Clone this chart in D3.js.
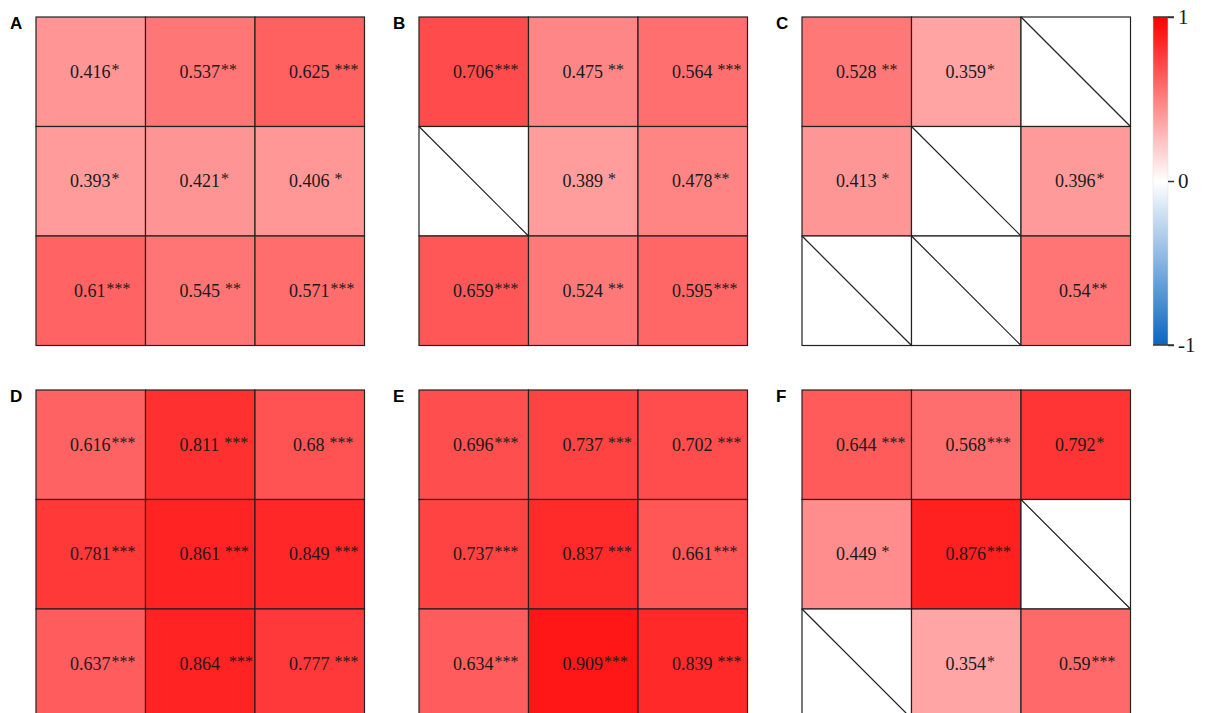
<!DOCTYPE html>
<html>
<head>
<meta charset="utf-8">
<script src="https://cdn.jsdelivr.net/npm/d3@7"></script>
<style>
  html, body { margin: 0; padding: 0; background: #fff; }
  svg { display: block; }
  .cellText { font-family: "Liberation Serif", "Times New Roman", serif; fill: #1a1a1a; white-space: pre; }
  .panelLabel { font-family: "Liberation Sans", Arial, sans-serif; font-weight: bold; font-size: 17px; fill: #000; }
  .cbar text { font-family: "Liberation Serif", "Times New Roman", serif; font-size: 21px; fill: #1a1a1a; }
</style>
</head>
<body>
<svg id="chart" width="1205" height="713"></svg>
<script>
// ---- data (null = no correlation shown, drawn as a diagonal) ----
const panelNames = ["A", "B", "C", "D", "E", "F"];
const rowIds = [0, 1, 2];
const colIds = [0, 1, 2];

const valuesA = [[0.416, 0.537, 0.625], [0.393, 0.421, 0.406], [0.61, 0.545, 0.571]];
const starsA  = [["*", "**", " ***"], ["*", "*", " *"], ["***", " **", "***"]];
const valuesB = [[0.706, 0.475, 0.564], [null, 0.389, 0.478], [0.659, 0.524, 0.595]];
const starsB  = [["***", " **", " ***"], [null, " *", "**"], ["***", " **", "***"]];
const valuesC = [[0.528, 0.359, null], [0.413, null, 0.396], [null, null, 0.54]];
const starsC  = [[" **", "*", null], [" *", null, "*"], [null, null, "**"]];
const valuesD = [[0.616, 0.811, 0.68], [0.781, 0.861, 0.849], [0.637, 0.864, 0.777]];
const starsD  = [["***", " ***", " ***"], ["***", " ***", " ***"], ["***", "  ***", " ***"]];
const valuesE = [[0.696, 0.737, 0.702], [0.737, 0.837, 0.661], [0.634, 0.909, 0.839]];
const starsE  = [["***", " ***", " ***"], ["***", " ***", "***"], ["***", "***", " ***"]];
const valuesF = [[0.644, 0.568, 0.792], [0.449, 0.876, null], [null, 0.354, 0.59]];
const starsF  = [[" ***", "***", "*"], [" *", "***", null], [null, "*", "***"]];

const colorbarTicks = [-1, 0, 1];

const panelValues = [valuesA, valuesB, valuesC, valuesD, valuesE, valuesF];
const panelStars  = [starsA, starsB, starsC, starsD, starsE, starsF];

// ---- layout ----
const svg = d3.select("#chart");
const panelSize = 328.5;
const panelX = d3.scaleOrdinal().domain([0, 1, 2]).range([36, 419, 802]);
const panelY = d3.scaleOrdinal().domain([0, 1]).range([17, 390]);

const color = d3.scaleLinear()
  .domain([-1, 0, 1])
  .range(["#0a66c2", "#ffffff", "#ff0000"])
  .interpolate(d3.interpolateRgb);

const xBand = d3.scaleBand().domain(colIds).range([0, panelSize]);
const yBand = d3.scaleBand().domain(rowIds).range([0, panelSize]);

panelNames.forEach((name, pi) => {
  const px = panelX(pi % 3), py = panelY(Math.floor(pi / 3));
  const g = svg.append("g").attr("transform", `translate(${px},${py})`);
  const vals = panelValues[pi], stars = panelStars[pi];

  const cells = [];
  rowIds.forEach(r => colIds.forEach(c => cells.push({ r, c, v: vals[r][c], s: stars[r][c] })));

  g.selectAll("rect.cell").data(cells).join("rect")
    .attr("class", "cell")
    .attr("x", d => xBand(d.c)).attr("y", d => yBand(d.r))
    .attr("width", xBand.bandwidth()).attr("height", yBand.bandwidth())
    .attr("fill", d => d.v == null ? "#ffffff" : color(d.v))
    .attr("stroke", "#222").attr("stroke-width", 1.2);

  g.selectAll("line.diag").data(cells.filter(d => d.v == null)).join("line")
    .attr("class", "diag")
    .attr("x1", d => xBand(d.c)).attr("y1", d => yBand(d.r))
    .attr("x2", d => xBand(d.c) + xBand.bandwidth()).attr("y2", d => yBand(d.r) + yBand.bandwidth())
    .attr("stroke", "#222").attr("stroke-width", 1.2);

  const t = g.selectAll("text.cellText").data(cells.filter(d => d.v != null)).join("text")
    .attr("class", "cellText")
    .attr("x", d => xBand(d.c) + 34 + (String(d.v).length < 5 ? 4 : 0))
    .attr("y", d => yBand(d.r) + yBand.bandwidth() / 2 + 6);
  t.append("tspan").attr("font-size", 18).text(d => String(d.v));
  t.append("tspan").attr("font-size", 16).attr("dx", 1).attr("dy", -3).text(d => d.s);

  svg.append("text").attr("class", "panelLabel")
    .attr("x", px - 26).attr("y", py + 12).text(name);
});

// ---- colour bar ----
const cbX = 1153, cbW = 15;
const cbScale = d3.scaleLinear().domain([-1, 1]).range([345, 17]);
const defs = svg.append("defs");
const grad = defs.append("linearGradient").attr("id", "cbgrad")
  .attr("x1", 0).attr("y1", 1).attr("x2", 0).attr("y2", 0);
d3.range(-1, 1.0001, 0.1).forEach(v => {
  grad.append("stop").attr("offset", (v + 1) / 2).attr("stop-color", color(v));
});
svg.append("rect")
  .attr("x", cbX).attr("y", cbScale(1))
  .attr("width", cbW).attr("height", cbScale(-1) - cbScale(1))
  .attr("fill", "url(#cbgrad)").attr("stroke", "#ddd").attr("stroke-width", 0.5);

const cbAxis = svg.append("g").attr("class", "cbar")
  .attr("transform", `translate(${cbX + cbW},0)`)
  .call(d3.axisRight(cbScale).tickValues(colorbarTicks).tickSize(6).tickFormat(d => String(d)));
cbAxis.select(".domain").remove();
cbAxis.selectAll(".tick line").attr("stroke", "#333").attr("stroke-width", 1.5);
cbAxis.selectAll(".tick text").attr("x", 10);
// end ticks span the whole bar width
svg.selectAll("line.cbEnd").data([-1, 1]).join("line")
  .attr("class", "cbEnd")
  .attr("x1", cbX).attr("x2", cbX + cbW + 6)
  .attr("y1", d => cbScale(d)).attr("y2", d => cbScale(d))
  .attr("stroke", "#333").attr("stroke-width", 1.5);
</script>
</body>
</html>
